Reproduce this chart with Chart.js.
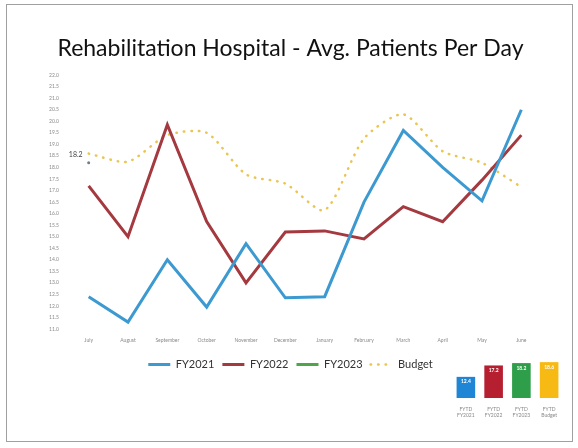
<!DOCTYPE html>
<html><head><meta charset="utf-8">
<script src="https://cdn.jsdelivr.net/npm/chart.js@4.4.1/dist/chart.umd.min.js"></script>
<style>
html,body{margin:0;padding:0;background:#fff;}
#wrap{position:relative;width:578px;height:448px;overflow:hidden;background:#fff;}
#frame{position:absolute;left:6px;top:4px;width:567px;height:438px;border:1px solid #a0a0a0;box-sizing:border-box;}
#main{position:absolute;left:0;top:0;}
#mini{position:absolute;left:445px;top:350px;}
</style></head><body>
<div id="wrap"><div id="frame"></div>
<canvas id="main" width="578" height="448"></canvas>
<canvas id="mini" width="125" height="80"></canvas></div>
<script>
const TITLE = 'Rehabilitation Hospital - Avg. Patients Per Day';
const months = ['July','August','September','October','November','December','January','February','March','April','May','June'];
const fy2021 = [12.4, 11.3, 14.0, 11.95, 14.7, 12.35, 12.4, 16.5, 19.6, 18.0, 16.55, 20.5];
const fy2022 = [17.2, 15.0, 19.85, 15.65, 13.0, 15.2, 15.25, 14.9, 16.3, 15.65, 17.45, 19.4];
const fy2023 = [18.2, null, null, null, null, null, null, null, null, null, null, null];
const budget = [18.6, 18.25, 19.4, 19.5, 17.7, 17.3, 16.15, 19.25, 20.3, 18.7, 18.2, 17.15];
const yMin = 11.0, yMax = 22.0, yStep = 0.5;

const fytdLabels = [['FYTD','FY2021'],['FYTD','FY2022'],['FYTD','FY2023'],['FYTD','Budget']];
const fytdValues = [12.4, 17.2, 18.2, 18.6];

const C_BLUE = '#3d9ad1', C_RED = '#a43a40', C_GREEN = '#4fa64a', C_YEL = '#e8c650';
const FONT = 'Lato, "Open Sans", sans-serif';

const dataLabel = {
  id: 'dl',
  afterDatasetsDraw(chart) {
    const ctx = chart.ctx;
    const meta = chart.getDatasetMeta(2);
    const i = fy2023.findIndex(v => v !== null);
    const pt = meta.data[i];
    ctx.save();
    ctx.font = '7px ' + FONT;
    ctx.fillStyle = '#444';
    ctx.textAlign = 'right';
    ctx.textBaseline = 'middle';
    ctx.fillText(fy2023[i].toFixed(1), pt.x - 6, pt.y - 8);
    ctx.restore();
  }
};

new Chart(document.getElementById('main'), {
  type: 'line',
  data: {
    labels: months,
    datasets: [
      {label:'FY2021', data: fy2021, borderColor: C_BLUE, backgroundColor: C_BLUE, borderWidth: 3, pointRadius: 0, tension: 0},
      {label:'FY2022', data: fy2022, borderColor: C_RED, backgroundColor: C_RED, borderWidth: 3, pointRadius: 0, tension: 0},
      {label:'FY2023', data: fy2023, borderColor: C_GREEN, backgroundColor: C_GREEN, borderWidth: 3, pointRadius: 1.5, pointBackgroundColor:'#6d7f8c', pointBorderColor:'#6d7f8c', pointBorderWidth: 0, tension: 0},
      {label:'Budget', data: budget, borderColor: C_YEL, backgroundColor: C_YEL, borderWidth: 2.5, borderDash:[0.5,7], borderCapStyle:'round', pointRadius: 0, tension: 0.25}
    ]
  },
  options: {
    responsive: false,
    animation: false,
    layout: {padding: {left: 40, right: 37, top: 35, bottom: 68}},
    plugins: {
      title: {display: true, text: TITLE, color: '#111', font: {family: FONT, size: 23, weight: 'normal'}, padding: {top: 0, bottom: 12.5}},
      legend: {position: 'bottom', labels: {usePointStyle: true, pointStyle: 'line', pointStyleWidth: 22, color: '#333', font: {family: FONT, size: 11}, padding: 8,
        generateLabels(chart) {
          const items = Chart.defaults.plugins.legend.labels.generateLabels(chart);
          items.forEach((it, i) => {
            const ds = chart.data.datasets[i];
            it.strokeStyle = ds.borderColor;
            it.fillStyle = ds.borderColor;
            it.lineWidth = ds.borderWidth;
            it.lineDash = ds.borderDash || [];
            it.lineCap = ds.borderCapStyle || 'butt';
            it.pointStyle = 'line';
          });
          return items;
        }}},
      tooltip: {enabled: false}
    },
    scales: {
      x: {offset: true, grid: {display: false, drawTicks: false}, border: {display: false},
          ticks: {font: {size: 5, family: FONT}, color: '#8a8a8a', padding: 8, maxRotation: 0, autoSkip: false},
          afterFit(s) { s.height = 22; }},
      y: {min: yMin, max: yMax, grid: {display: false, drawTicks: false}, border: {display: false},
          ticks: {stepSize: yStep, font: {size: 5, family: FONT}, color: '#8a8a8a', padding: 10, callback: v => Number(v).toFixed(1)},
          afterFit(s) { s.width = 29; }}
    }
  },
  plugins: [dataLabel]
});

const barVals = {
  id: 'bv',
  afterDatasetsDraw(chart) {
    const ctx = chart.ctx;
    const meta = chart.getDatasetMeta(0);
    ctx.save();
    ctx.font = 'bold 5px ' + FONT;
    ctx.fillStyle = '#fff';
    ctx.textAlign = 'center';
    ctx.textBaseline = 'middle';
    meta.data.forEach((b, i) => ctx.fillText(fytdValues[i].toFixed(1), b.x, b.y + 5));
    ctx.restore();
  }
};

new Chart(document.getElementById('mini'), {
  type: 'bar',
  data: {
    labels: fytdLabels,
    datasets: [{data: fytdValues, backgroundColor: ['#1f86d6', '#b51f30', '#2e9e4a', '#f7b913'], borderWidth: 0, barPercentage: 0.67, categoryPercentage: 1}]
  },
  options: {
    responsive: false,
    animation: false,
    layout: {padding: {left: 7, right: 7, top: 10, bottom: 0}},
    plugins: {legend: {display: false}, title: {display: false}, tooltip: {enabled: false}},
    scales: {
      x: {grid: {display: false, drawTicks: false}, border: {display: false},
          ticks: {font: {size: 5, family: FONT}, color: '#888', padding: 8, maxRotation: 0, autoSkip: false},
          afterFit(s) { s.height = 32; }},
      y: {display: false, min: 3.5, max: 19.5}
    }
  },
  plugins: [barVals]
});
</script>
</body></html>
